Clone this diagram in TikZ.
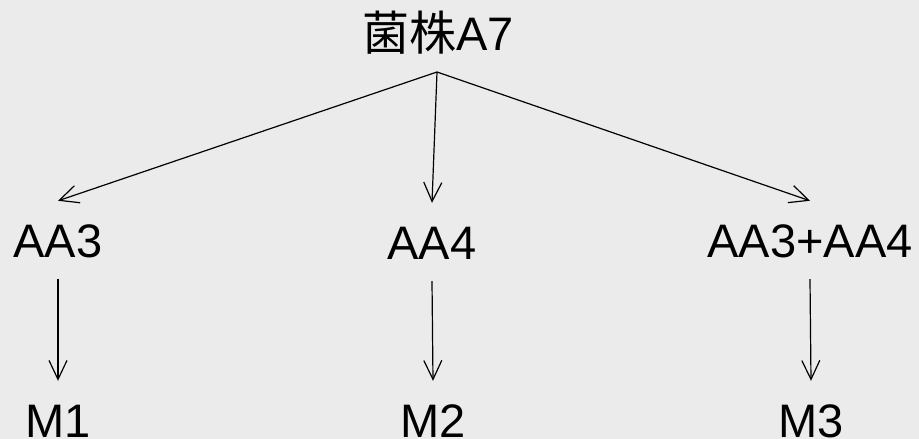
\documentclass[tikz,border=0pt]{standalone}
\usepackage{fontspec}
\setmainfont{Liberation Sans}
\newfontfamily\cjk{Noto Sans CJK SC}[Scale=1]
\usetikzlibrary{arrows.meta}
\definecolor{bg}{RGB}{235,235,235}
\begin{document}
\begin{tikzpicture}[x=1pt,y=-1pt,
  lbl/.style={anchor=base,inner xsep=0pt,inner ysep=22pt,text height=34pt,text depth=0pt,
    font=\fontsize{47}{56}\selectfont},
  conn/.style={line width=1.2pt,-{Straight Barb[length=19pt,width=18pt,line width=1.2pt]}}]
\fill[bg] (0,0) rectangle (919,439);
\useasboundingbox (0,0) rectangle (919,439);
\node[lbl] (top) at (438,50) {{\cjk 菌株}A7};
\node[lbl] (aa3) at (58,257) {AA3};
\node[lbl] (aa4) at (432,259) {AA4};
\node[lbl] (aa34) at (810,257) {AA3+AA4};
\node[lbl] (m1) at (58,437) {M1};
\node[lbl] (m2) at (433,437) {M2};
\node[lbl] (m3) at (811,437) {M3};
\coordinate (apex) at (437,72);
\draw[conn] (apex) -- (aa3.north);
\draw[conn] (apex) -- (aa4.north);
\draw[conn] (apex) -- (aa34.north);
\draw[conn] (aa3.south) -- (m1.north);
\draw[conn] (aa4.south) -- (m2.north);
\draw[conn] (aa34.south) -- (m3.north);
\end{tikzpicture}
\end{document}
